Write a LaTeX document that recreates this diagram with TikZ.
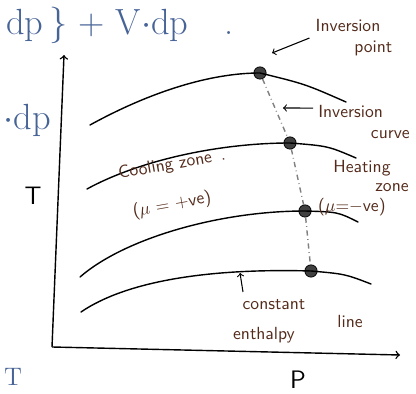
\documentclass[tikz,border=0pt]{standalone}
\usetikzlibrary{calc}
\usepackage[dvipsnames]{xcolor}

\begin{document}
\begin{tikzpicture}[
    x=0.02cm, y=-0.02cm,
    curve/.style={thick, line cap=round},      % isenthalpic lines
    dot/.style={
        circle,
        draw,
        fill=black!75,     % dark filled point
        minimum size=7pt,
        inner sep=0pt
    },
    note/.style={text=Brown!60!black, font=\sffamily},
    ink/.style={text=NavyBlue!70!black, font=\huge},
    pointer/.style={->, semithick}
]
\useasboundingbox (0,0) rectangle (416,394);

% notes of the page around the sketch
\node[ink, anchor=west, inner sep=1pt] (eqtop) at (4,25) {dp\,\} + V$\cdot$dp\quad .};
\node[ink, anchor=east] (eqleft) at (57,120) {$\cdot$dp};
\node[text=NavyBlue!70!black, font=\Large, anchor=west, inner sep=1pt] (tcut) at (2,377) {T};

% axes
\coordinate (O) at (52,347);
\coordinate (ytop) at (64,55);
\coordinate (xend) at (400,355);
\draw[thick, ->] (O) -- (ytop);
\draw[thick, ->] (O) -- (xend);
\node[font=\Large\sffamily] (T) at (33,196) {T};
\node[font=\Large\sffamily] (P) at (298,380) {P};

% inversion points
\node[dot] (i1) at (260,73) {};
\node[dot] (i2) at (290,143) {};
\node[dot] (i3) at (305,211) {};
\node[dot] (i4) at (311,271) {};

% ends of the constant enthalpy lines
\coordinate (a1) at (90,125);  \coordinate (b1) at (346,102);
\coordinate (a2) at (87,189);  \coordinate (b2) at (356,158);
\coordinate (a3) at (80,277);  \coordinate (b3) at (358,222);
\coordinate (a4) at (81,312);  \coordinate (b4) at (371,284);

\draw[curve] (a1) .. controls (150,92) and (210,73) .. (i1.center)
    .. controls (305,84) .. (b1);
\draw[curve] (a2) .. controls (140,160) and (220,143) .. (i2.center)
    .. controls (328,146) .. (b2);
\draw[curve] (a3) .. controls (125,238) and (220,211) .. (i3.center)
    .. controls (338,212) .. (b3);
\draw[curve] (a4) .. controls (125,282) and (205,268) .. (i4.center)
    .. controls (345,274) .. (b4);

% inversion curve
\draw[dash dot, gray, thick] (i1) -- (i2) -- (i3) -- (i4);

% labels
\node[note, align=left] (ip) at (354,38) {Inversion\\\hspace{2.2em}point};
\coordinate (ipA) at (272,53);
\draw[pointer] (ip.west) -- (ipA);

\node[note, align=left] (ic) at (364,122) {Inversion\\\hspace{3em}curve};
\coordinate (icA) at (283,108);
\draw[pointer] ($(ic.north west)+(1,9)$) -- (icA);

\node[note, rotate=10] (cz) at (172,165) {Cooling zone \,.};
\node[note, rotate=10] (czm) at (172,205) {($\mu$ = +ve)};

\node[note] (hz) at (362,168) {Heating};
\node[note] (hzz) at (392,188) {zone};
\node[note, anchor=west, inner sep=1pt] (hzm) at (316,207) {($\mu$=$-$ve)};

\node[note] (ce) at (274,305) {constant};
\node[note] (ce2) at (264,335) {enthalpy};
\node[note] (cel) at (350,322) {line};
\coordinate (ceA) at (240,273);
\draw[pointer] (243,292) -- (ceA);
\end{tikzpicture}
\end{document}
